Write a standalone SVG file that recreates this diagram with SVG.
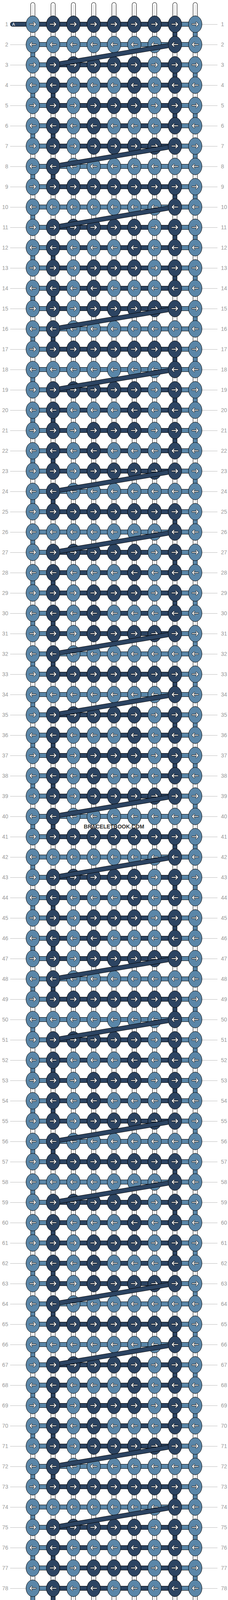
<svg xmlns="http://www.w3.org/2000/svg" xmlns:xlink="http://www.w3.org/1999/xlink" width="584" height="4232" viewBox="0 0 584 4232">
<style>
.kl{fill:#5a86a8;stroke:#000;stroke-width:1}
.kd{fill:#2c4462;stroke:#000;stroke-width:1}
.ab{fill:none;stroke:#000;stroke-width:3.8;stroke-linecap:round;stroke-linejoin:round}
.aw{fill:none;stroke:#fff;stroke-width:2.2;stroke-linecap:round;stroke-linejoin:round}
.lb{font-family:"Liberation Sans",Arial,sans-serif;font-size:14px;fill:#999}
.gl{stroke:#bbb;stroke-width:1;fill:none}
.wm{font-family:"Liberation Sans",Arial,sans-serif;font-size:14px;font-weight:bold;fill:#333}
.ta{font-family:"Liberation Sans",Arial,sans-serif;font-size:11px;fill:#fff}
</style>
<defs>
<path id="ar" d="M-7.5,0H6.5M2.5,-4.5L7,0L2.5,4.5"/>
<g id="LR"><ellipse class="kl" rx="17.3" ry="21.4"/><use href="#ar" class="ab"/><use href="#ar" class="aw"/></g>
<g id="DR"><ellipse class="kd" rx="17.3" ry="21.4"/><use href="#ar" class="ab"/><use href="#ar" class="aw"/></g>
<g id="LL"><ellipse class="kl" rx="17.3" ry="21.4"/><g transform="scale(-1,1)"><use href="#ar" class="ab"/><use href="#ar" class="aw"/></g></g>
<g id="DL"><ellipse class="kd" rx="17.3" ry="21.4"/><g transform="scale(-1,1)"><use href="#ar" class="ab"/><use href="#ar" class="aw"/></g></g>
<g id="str"><rect x="-6" y="6" width="12" height="4220" rx="6" fill="#000"/><rect x="-5" y="7" width="10" height="4218" rx="5" fill="#fff"/><path d="M-1.5,12V4220M1.5,12V4220" stroke="#ccc" stroke-width="1"/></g>
<pattern id="pv1" patternUnits="userSpaceOnUse" x="0" y="114" width="10" height="104"><rect width="10" height="52" fill="#5a86a8"/></pattern>
<pattern id="pv9" patternUnits="userSpaceOnUse" x="0" y="62" width="10" height="104"><rect width="10" height="52" fill="#5a86a8"/></pattern>
<pattern id="pv2" patternUnits="userSpaceOnUse" x="0" y="218" width="10" height="416"><path d="M0,0h10v52h-10zM0,104h10v52h-10zM0,208h10v52h-10z" fill="#2c4462"/></pattern>
<pattern id="pv8" patternUnits="userSpaceOnUse" x="0" y="62" width="10" height="416"><path d="M0,0h10v52h-10zM0,104h10v52h-10zM0,208h10v52h-10z" fill="#2c4462"/></pattern>
<pattern id="phl" patternUnits="userSpaceOnUse" x="0" y="56" width="10" height="52"><rect width="10" height="12" fill="#000"/><rect y="1" width="10" height="10" fill="#5a86a8"/></pattern>
<pattern id="phd" patternUnits="userSpaceOnUse" x="0" y="56" width="10" height="416"><path d="M0,0h10v12h-10zM0,104h10v12h-10zM0,156h10v12h-10zM0,208h10v12h-10zM0,260h10v12h-10zM0,312h10v12h-10z" fill="#000"/><path d="M0,1h10v10h-10zM0,105h10v10h-10zM0,157h10v10h-10zM0,209h10v10h-10zM0,261h10v10h-10zM0,313h10v10h-10z" fill="#2c4462"/></pattern>
<mask id="dm" maskUnits="userSpaceOnUse" x="0" y="-40" width="584" height="140"><rect x="0" y="-40" width="584" height="140" fill="#fff"/><ellipse cx="448" cy="0" rx="17.9" ry="22" fill="#000"/><ellipse cx="136" cy="52" rx="17.9" ry="22" fill="#000"/></mask>
<g id="dg" mask="url(#dm)"><line x1="448" y1="0" x2="136" y2="52" stroke="#000" stroke-width="12"/><line x1="448" y1="0" x2="136" y2="52" stroke="#2c4462" stroke-width="10"/></g>
</defs>
<rect width="584" height="4232" fill="#fff"/>
<g id="guides">
<path class="gl" d="M26,114.5h41m-41,52h41m-41,52h41m-41,52h41m-41,52h41m-41,52h41m-41,52h41m-41,52h41m-41,52h41m-41,52h41m-41,52h41m-41,52h41m-41,52h41m-41,52h41m-41,52h41m-41,52h41m-41,52h41m-41,52h41m-41,52h41m-41,52h41m-41,52h41m-41,52h41m-41,52h41m-41,52h41m-41,52h41m-41,52h41m-41,52h41m-41,52h41m-41,52h41m-41,52h41m-41,52h41m-41,52h41m-41,52h41m-41,52h41m-41,52h41m-41,52h41m-41,52h41m-41,52h41m-41,52h41m-41,52h41m-41,52h41m-41,52h41m-41,52h41m-41,52h41m-41,52h41m-41,52h41m-41,52h41m-41,52h41m-41,52h41m-41,52h41m-41,52h41m-41,52h41m-41,52h41m-41,52h41m-41,52h41m-41,52h41m-41,52h41m-41,52h41m-41,52h41m-41,52h41m-41,52h41m-41,52h41m-41,52h41m-41,52h41m-41,52h41m-41,52h41m-41,52h41m-41,52h41m-41,52h41m-41,52h41m-41,52h41m-41,52h41m-41,52h41m-41,52h41m-41,52h41m-41,52h41m-41,52h41m-41,52h41"/>
<path class="gl" d="M517,62.5h40m-40,52h40m-40,52h40m-40,52h40m-40,52h40m-40,52h40m-40,52h40m-40,52h40m-40,52h40m-40,52h40m-40,52h40m-40,52h40m-40,52h40m-40,52h40m-40,52h40m-40,52h40m-40,52h40m-40,52h40m-40,52h40m-40,52h40m-40,52h40m-40,52h40m-40,52h40m-40,52h40m-40,52h40m-40,52h40m-40,52h40m-40,52h40m-40,52h40m-40,52h40m-40,52h40m-40,52h40m-40,52h40m-40,52h40m-40,52h40m-40,52h40m-40,52h40m-40,52h40m-40,52h40m-40,52h40m-40,52h40m-40,52h40m-40,52h40m-40,52h40m-40,52h40m-40,52h40m-40,52h40m-40,52h40m-40,52h40m-40,52h40m-40,52h40m-40,52h40m-40,52h40m-40,52h40m-40,52h40m-40,52h40m-40,52h40m-40,52h40m-40,52h40m-40,52h40m-40,52h40m-40,52h40m-40,52h40m-40,52h40m-40,52h40m-40,52h40m-40,52h40m-40,52h40m-40,52h40m-40,52h40m-40,52h40m-40,52h40m-40,52h40m-40,52h40m-40,52h40m-40,52h40m-40,52h40m-40,52h40m-40,52h40m-40,52h40"/>
</g>
<g id="labels-left" class="lb" text-anchor="end">
<text x="21" y="67">1</text><text x="21" y="119">2</text><text x="21" y="171">3</text><text x="21" y="223">4</text><text x="21" y="275">5</text><text x="21" y="327">6</text><text x="21" y="379">7</text><text x="21" y="431">8</text><text x="21" y="483">9</text><text x="21" y="535">10</text>
<text x="21" y="587">11</text><text x="21" y="639">12</text><text x="21" y="691">13</text><text x="21" y="743">14</text><text x="21" y="795">15</text><text x="21" y="847">16</text><text x="21" y="899">17</text><text x="21" y="951">18</text><text x="21" y="1003">19</text><text x="21" y="1055">20</text>
<text x="21" y="1107">21</text><text x="21" y="1159">22</text><text x="21" y="1211">23</text><text x="21" y="1263">24</text><text x="21" y="1315">25</text><text x="21" y="1367">26</text><text x="21" y="1419">27</text><text x="21" y="1471">28</text><text x="21" y="1523">29</text><text x="21" y="1575">30</text>
<text x="21" y="1627">31</text><text x="21" y="1679">32</text><text x="21" y="1731">33</text><text x="21" y="1783">34</text><text x="21" y="1835">35</text><text x="21" y="1887">36</text><text x="21" y="1939">37</text><text x="21" y="1991">38</text><text x="21" y="2043">39</text><text x="21" y="2095">40</text>
<text x="21" y="2147">41</text><text x="21" y="2199">42</text><text x="21" y="2251">43</text><text x="21" y="2303">44</text><text x="21" y="2355">45</text><text x="21" y="2407">46</text><text x="21" y="2459">47</text><text x="21" y="2511">48</text><text x="21" y="2563">49</text><text x="21" y="2615">50</text>
<text x="21" y="2667">51</text><text x="21" y="2719">52</text><text x="21" y="2771">53</text><text x="21" y="2823">54</text><text x="21" y="2875">55</text><text x="21" y="2927">56</text><text x="21" y="2979">57</text><text x="21" y="3031">58</text><text x="21" y="3083">59</text><text x="21" y="3135">60</text>
<text x="21" y="3187">61</text><text x="21" y="3239">62</text><text x="21" y="3291">63</text><text x="21" y="3343">64</text><text x="21" y="3395">65</text><text x="21" y="3447">66</text><text x="21" y="3499">67</text><text x="21" y="3551">68</text><text x="21" y="3603">69</text><text x="21" y="3655">70</text>
<text x="21" y="3707">71</text><text x="21" y="3759">72</text><text x="21" y="3811">73</text><text x="21" y="3863">74</text><text x="21" y="3915">75</text><text x="21" y="3967">76</text><text x="21" y="4019">77</text><text x="21" y="4071">78</text><text x="21" y="4123">79</text><text x="21" y="4175">80</text>
</g>
<g id="labels-right" class="lb">
<text x="566" y="67">1</text><text x="566" y="119">2</text><text x="566" y="171">3</text><text x="566" y="223">4</text><text x="566" y="275">5</text><text x="566" y="327">6</text><text x="566" y="379">7</text><text x="566" y="431">8</text><text x="566" y="483">9</text><text x="566" y="535">10</text>
<text x="566" y="587">11</text><text x="566" y="639">12</text><text x="566" y="691">13</text><text x="566" y="743">14</text><text x="566" y="795">15</text><text x="566" y="847">16</text><text x="566" y="899">17</text><text x="566" y="951">18</text><text x="566" y="1003">19</text><text x="566" y="1055">20</text>
<text x="566" y="1107">21</text><text x="566" y="1159">22</text><text x="566" y="1211">23</text><text x="566" y="1263">24</text><text x="566" y="1315">25</text><text x="566" y="1367">26</text><text x="566" y="1419">27</text><text x="566" y="1471">28</text><text x="566" y="1523">29</text><text x="566" y="1575">30</text>
<text x="566" y="1627">31</text><text x="566" y="1679">32</text><text x="566" y="1731">33</text><text x="566" y="1783">34</text><text x="566" y="1835">35</text><text x="566" y="1887">36</text><text x="566" y="1939">37</text><text x="566" y="1991">38</text><text x="566" y="2043">39</text><text x="566" y="2095">40</text>
<text x="566" y="2147">41</text><text x="566" y="2199">42</text><text x="566" y="2251">43</text><text x="566" y="2303">44</text><text x="566" y="2355">45</text><text x="566" y="2407">46</text><text x="566" y="2459">47</text><text x="566" y="2511">48</text><text x="566" y="2563">49</text><text x="566" y="2615">50</text>
<text x="566" y="2667">51</text><text x="566" y="2719">52</text><text x="566" y="2771">53</text><text x="566" y="2823">54</text><text x="566" y="2875">55</text><text x="566" y="2927">56</text><text x="566" y="2979">57</text><text x="566" y="3031">58</text><text x="566" y="3083">59</text><text x="566" y="3135">60</text>
<text x="566" y="3187">61</text><text x="566" y="3239">62</text><text x="566" y="3291">63</text><text x="566" y="3343">64</text><text x="566" y="3395">65</text><text x="566" y="3447">66</text><text x="566" y="3499">67</text><text x="566" y="3551">68</text><text x="566" y="3603">69</text><text x="566" y="3655">70</text>
<text x="566" y="3707">71</text><text x="566" y="3759">72</text><text x="566" y="3811">73</text><text x="566" y="3863">74</text><text x="566" y="3915">75</text><text x="566" y="3967">76</text><text x="566" y="4019">77</text><text x="566" y="4071">78</text><text x="566" y="4123">79</text><text x="566" y="4175">80</text>
</g>
<g id="connectors">
<use href="#str" x="84"/><use href="#str" x="136"/><use href="#str" x="188"/><use href="#str" x="240"/><use href="#str" x="292"/><use href="#str" x="344"/><use href="#str" x="396"/><use href="#str" x="448"/><use href="#str" x="500"/>
<rect x="79" y="62" width="10" height="4108" fill="url(#pv1)"/>
<rect x="495" y="62" width="10" height="4108" fill="url(#pv9)"/>
<rect x="131" y="62" width="10" height="4108" fill="url(#pv2)"/>
<rect x="443" y="62" width="10" height="4108" fill="url(#pv8)"/>
<rect x="84" y="56" width="416" height="4120" fill="url(#phl)"/>
<rect x="136" y="56" width="312" height="4120" fill="url(#phd)"/>
<g id="thread-A-start"><rect x="26" y="56" width="110" height="12" rx="6" fill="#000"/><rect x="27" y="57" width="108" height="10" rx="5" fill="#2c4462"/><text class="ta" x="31" y="66">A</text></g>
<g id="thread-A-end"><rect x="26" y="4164" width="110" height="12" rx="6" fill="#000"/><rect x="27" y="4165" width="108" height="10" rx="5" fill="#2c4462"/><text class="ta" x="31" y="4174">A</text></g>
</g>
<g id="knots">
<g id="r1" transform="translate(0,62)"><use id="n1-1" href="#LR" x="84"/><use id="n1-2" href="#DR" x="136"/><use id="n1-3" href="#DR" x="188"/><use id="n1-4" href="#DR" x="240"/><use id="n1-5" href="#DR" x="292"/><use id="n1-6" href="#DR" x="344"/><use id="n1-7" href="#DR" x="396"/><use id="n1-8" href="#DR" x="448"/><use id="n1-9" href="#LR" x="500"/></g>
<g id="r2" transform="translate(0,114)"><use id="n2-1" href="#LL" x="84"/><use id="n2-2" href="#LL" x="136"/><use id="n2-3" href="#LL" x="188"/><use id="n2-4" href="#LL" x="240"/><use id="n2-5" href="#LL" x="292"/><use id="n2-6" href="#LL" x="344"/><use id="n2-7" href="#LL" x="396"/><use id="n2-8" href="#DL" x="448"/><use id="n2-9" href="#LL" x="500"/></g>
<g id="r3" transform="translate(0,166)"><use id="n3-1" href="#LR" x="84"/><use id="n3-2" href="#DR" x="136"/><use id="n3-3" href="#DR" x="188"/><use id="n3-4" href="#DR" x="240"/><use id="n3-5" href="#DR" x="292"/><use id="n3-6" href="#DR" x="344"/><use id="n3-7" href="#LR" x="396"/><use id="n3-8" href="#DR" x="448"/><use id="n3-9" href="#LR" x="500"/></g>
<g id="r4" transform="translate(0,218)"><use id="n4-1" href="#LL" x="84"/><use id="n4-2" href="#DL" x="136"/><use id="n4-3" href="#LL" x="188"/><use id="n4-4" href="#LL" x="240"/><use id="n4-5" href="#LL" x="292"/><use id="n4-6" href="#DL" x="344"/><use id="n4-7" href="#LL" x="396"/><use id="n4-8" href="#DL" x="448"/><use id="n4-9" href="#LL" x="500"/></g>
<g id="r5" transform="translate(0,270)"><use id="n5-1" href="#LR" x="84"/><use id="n5-2" href="#DR" x="136"/><use id="n5-3" href="#LR" x="188"/><use id="n5-4" href="#DR" x="240"/><use id="n5-5" href="#DR" x="292"/><use id="n5-6" href="#DR" x="344"/><use id="n5-7" href="#LR" x="396"/><use id="n5-8" href="#DR" x="448"/><use id="n5-9" href="#LR" x="500"/></g>
<g id="r6" transform="translate(0,322)"><use id="n6-1" href="#LL" x="84"/><use id="n6-2" href="#DL" x="136"/><use id="n6-3" href="#LL" x="188"/><use id="n6-4" href="#DL" x="240"/><use id="n6-5" href="#LL" x="292"/><use id="n6-6" href="#LL" x="344"/><use id="n6-7" href="#LL" x="396"/><use id="n6-8" href="#DL" x="448"/><use id="n6-9" href="#LL" x="500"/></g>
<g id="r7" transform="translate(0,374)"><use id="n7-1" href="#LR" x="84"/><use id="n7-2" href="#DR" x="136"/><use id="n7-3" href="#LR" x="188"/><use id="n7-4" href="#DR" x="240"/><use id="n7-5" href="#DR" x="292"/><use id="n7-6" href="#DR" x="344"/><use id="n7-7" href="#DR" x="396"/><use id="n7-8" href="#DR" x="448"/><use id="n7-9" href="#LR" x="500"/></g>
<g id="r8" transform="translate(0,426)"><use id="n8-1" href="#LL" x="84"/><use id="n8-2" href="#DL" x="136"/><use id="n8-3" href="#LL" x="188"/><use id="n8-4" href="#LL" x="240"/><use id="n8-5" href="#LL" x="292"/><use id="n8-6" href="#LL" x="344"/><use id="n8-7" href="#LL" x="396"/><use id="n8-8" href="#LL" x="448"/><use id="n8-9" href="#LL" x="500"/></g>
<g id="r9" transform="translate(0,478)"><use id="n9-1" href="#LR" x="84"/><use id="n9-2" href="#DR" x="136"/><use id="n9-3" href="#DR" x="188"/><use id="n9-4" href="#DR" x="240"/><use id="n9-5" href="#DR" x="292"/><use id="n9-6" href="#DR" x="344"/><use id="n9-7" href="#DR" x="396"/><use id="n9-8" href="#DR" x="448"/><use id="n9-9" href="#LR" x="500"/></g>
<g id="r10" transform="translate(0,530)"><use id="n10-1" href="#LL" x="84"/><use id="n10-2" href="#LL" x="136"/><use id="n10-3" href="#LL" x="188"/><use id="n10-4" href="#LL" x="240"/><use id="n10-5" href="#LL" x="292"/><use id="n10-6" href="#LL" x="344"/><use id="n10-7" href="#LL" x="396"/><use id="n10-8" href="#DL" x="448"/><use id="n10-9" href="#LL" x="500"/></g>
<g id="r11" transform="translate(0,582)"><use id="n11-1" href="#LR" x="84"/><use id="n11-2" href="#DR" x="136"/><use id="n11-3" href="#DR" x="188"/><use id="n11-4" href="#DR" x="240"/><use id="n11-5" href="#DR" x="292"/><use id="n11-6" href="#DR" x="344"/><use id="n11-7" href="#LR" x="396"/><use id="n11-8" href="#DR" x="448"/><use id="n11-9" href="#LR" x="500"/></g>
<g id="r12" transform="translate(0,634)"><use id="n12-1" href="#LL" x="84"/><use id="n12-2" href="#DL" x="136"/><use id="n12-3" href="#LL" x="188"/><use id="n12-4" href="#LL" x="240"/><use id="n12-5" href="#LL" x="292"/><use id="n12-6" href="#DL" x="344"/><use id="n12-7" href="#LL" x="396"/><use id="n12-8" href="#DL" x="448"/><use id="n12-9" href="#LL" x="500"/></g>
<g id="r13" transform="translate(0,686)"><use id="n13-1" href="#LR" x="84"/><use id="n13-2" href="#DR" x="136"/><use id="n13-3" href="#LR" x="188"/><use id="n13-4" href="#DR" x="240"/><use id="n13-5" href="#DR" x="292"/><use id="n13-6" href="#DR" x="344"/><use id="n13-7" href="#LR" x="396"/><use id="n13-8" href="#DR" x="448"/><use id="n13-9" href="#LR" x="500"/></g>
<g id="r14" transform="translate(0,738)"><use id="n14-1" href="#LL" x="84"/><use id="n14-2" href="#DL" x="136"/><use id="n14-3" href="#LL" x="188"/><use id="n14-4" href="#DL" x="240"/><use id="n14-5" href="#LL" x="292"/><use id="n14-6" href="#LL" x="344"/><use id="n14-7" href="#LL" x="396"/><use id="n14-8" href="#DL" x="448"/><use id="n14-9" href="#LL" x="500"/></g>
<g id="r15" transform="translate(0,790)"><use id="n15-1" href="#LR" x="84"/><use id="n15-2" href="#DR" x="136"/><use id="n15-3" href="#LR" x="188"/><use id="n15-4" href="#DR" x="240"/><use id="n15-5" href="#DR" x="292"/><use id="n15-6" href="#DR" x="344"/><use id="n15-7" href="#DR" x="396"/><use id="n15-8" href="#DR" x="448"/><use id="n15-9" href="#LR" x="500"/></g>
<g id="r16" transform="translate(0,842)"><use id="n16-1" href="#LL" x="84"/><use id="n16-2" href="#DL" x="136"/><use id="n16-3" href="#LL" x="188"/><use id="n16-4" href="#LL" x="240"/><use id="n16-5" href="#LL" x="292"/><use id="n16-6" href="#LL" x="344"/><use id="n16-7" href="#LL" x="396"/><use id="n16-8" href="#LL" x="448"/><use id="n16-9" href="#LL" x="500"/></g>
<g id="r17" transform="translate(0,894)"><use id="n17-1" href="#LR" x="84"/><use id="n17-2" href="#DR" x="136"/><use id="n17-3" href="#DR" x="188"/><use id="n17-4" href="#DR" x="240"/><use id="n17-5" href="#DR" x="292"/><use id="n17-6" href="#DR" x="344"/><use id="n17-7" href="#DR" x="396"/><use id="n17-8" href="#DR" x="448"/><use id="n17-9" href="#LR" x="500"/></g>
<g id="r18" transform="translate(0,946)"><use id="n18-1" href="#LL" x="84"/><use id="n18-2" href="#LL" x="136"/><use id="n18-3" href="#LL" x="188"/><use id="n18-4" href="#LL" x="240"/><use id="n18-5" href="#LL" x="292"/><use id="n18-6" href="#LL" x="344"/><use id="n18-7" href="#LL" x="396"/><use id="n18-8" href="#DL" x="448"/><use id="n18-9" href="#LL" x="500"/></g>
<g id="r19" transform="translate(0,998)"><use id="n19-1" href="#LR" x="84"/><use id="n19-2" href="#DR" x="136"/><use id="n19-3" href="#DR" x="188"/><use id="n19-4" href="#DR" x="240"/><use id="n19-5" href="#DR" x="292"/><use id="n19-6" href="#DR" x="344"/><use id="n19-7" href="#LR" x="396"/><use id="n19-8" href="#DR" x="448"/><use id="n19-9" href="#LR" x="500"/></g>
<g id="r20" transform="translate(0,1050)"><use id="n20-1" href="#LL" x="84"/><use id="n20-2" href="#DL" x="136"/><use id="n20-3" href="#LL" x="188"/><use id="n20-4" href="#LL" x="240"/><use id="n20-5" href="#LL" x="292"/><use id="n20-6" href="#DL" x="344"/><use id="n20-7" href="#LL" x="396"/><use id="n20-8" href="#DL" x="448"/><use id="n20-9" href="#LL" x="500"/></g>
<g id="r21" transform="translate(0,1102)"><use id="n21-1" href="#LR" x="84"/><use id="n21-2" href="#DR" x="136"/><use id="n21-3" href="#LR" x="188"/><use id="n21-4" href="#DR" x="240"/><use id="n21-5" href="#DR" x="292"/><use id="n21-6" href="#DR" x="344"/><use id="n21-7" href="#LR" x="396"/><use id="n21-8" href="#DR" x="448"/><use id="n21-9" href="#LR" x="500"/></g>
<g id="r22" transform="translate(0,1154)"><use id="n22-1" href="#LL" x="84"/><use id="n22-2" href="#DL" x="136"/><use id="n22-3" href="#LL" x="188"/><use id="n22-4" href="#DL" x="240"/><use id="n22-5" href="#LL" x="292"/><use id="n22-6" href="#LL" x="344"/><use id="n22-7" href="#LL" x="396"/><use id="n22-8" href="#DL" x="448"/><use id="n22-9" href="#LL" x="500"/></g>
<g id="r23" transform="translate(0,1206)"><use id="n23-1" href="#LR" x="84"/><use id="n23-2" href="#DR" x="136"/><use id="n23-3" href="#LR" x="188"/><use id="n23-4" href="#DR" x="240"/><use id="n23-5" href="#DR" x="292"/><use id="n23-6" href="#DR" x="344"/><use id="n23-7" href="#DR" x="396"/><use id="n23-8" href="#DR" x="448"/><use id="n23-9" href="#LR" x="500"/></g>
<g id="r24" transform="translate(0,1258)"><use id="n24-1" href="#LL" x="84"/><use id="n24-2" href="#DL" x="136"/><use id="n24-3" href="#LL" x="188"/><use id="n24-4" href="#LL" x="240"/><use id="n24-5" href="#LL" x="292"/><use id="n24-6" href="#LL" x="344"/><use id="n24-7" href="#LL" x="396"/><use id="n24-8" href="#LL" x="448"/><use id="n24-9" href="#LL" x="500"/></g>
<g id="r25" transform="translate(0,1310)"><use id="n25-1" href="#LR" x="84"/><use id="n25-2" href="#DR" x="136"/><use id="n25-3" href="#DR" x="188"/><use id="n25-4" href="#DR" x="240"/><use id="n25-5" href="#DR" x="292"/><use id="n25-6" href="#DR" x="344"/><use id="n25-7" href="#DR" x="396"/><use id="n25-8" href="#DR" x="448"/><use id="n25-9" href="#LR" x="500"/></g>
<g id="r26" transform="translate(0,1362)"><use id="n26-1" href="#LL" x="84"/><use id="n26-2" href="#LL" x="136"/><use id="n26-3" href="#LL" x="188"/><use id="n26-4" href="#LL" x="240"/><use id="n26-5" href="#LL" x="292"/><use id="n26-6" href="#LL" x="344"/><use id="n26-7" href="#LL" x="396"/><use id="n26-8" href="#DL" x="448"/><use id="n26-9" href="#LL" x="500"/></g>
<g id="r27" transform="translate(0,1414)"><use id="n27-1" href="#LR" x="84"/><use id="n27-2" href="#DR" x="136"/><use id="n27-3" href="#DR" x="188"/><use id="n27-4" href="#DR" x="240"/><use id="n27-5" href="#DR" x="292"/><use id="n27-6" href="#DR" x="344"/><use id="n27-7" href="#LR" x="396"/><use id="n27-8" href="#DR" x="448"/><use id="n27-9" href="#LR" x="500"/></g>
<g id="r28" transform="translate(0,1466)"><use id="n28-1" href="#LL" x="84"/><use id="n28-2" href="#DL" x="136"/><use id="n28-3" href="#LL" x="188"/><use id="n28-4" href="#LL" x="240"/><use id="n28-5" href="#LL" x="292"/><use id="n28-6" href="#DL" x="344"/><use id="n28-7" href="#LL" x="396"/><use id="n28-8" href="#DL" x="448"/><use id="n28-9" href="#LL" x="500"/></g>
<g id="r29" transform="translate(0,1518)"><use id="n29-1" href="#LR" x="84"/><use id="n29-2" href="#DR" x="136"/><use id="n29-3" href="#LR" x="188"/><use id="n29-4" href="#DR" x="240"/><use id="n29-5" href="#DR" x="292"/><use id="n29-6" href="#DR" x="344"/><use id="n29-7" href="#LR" x="396"/><use id="n29-8" href="#DR" x="448"/><use id="n29-9" href="#LR" x="500"/></g>
<g id="r30" transform="translate(0,1570)"><use id="n30-1" href="#LL" x="84"/><use id="n30-2" href="#DL" x="136"/><use id="n30-3" href="#LL" x="188"/><use id="n30-4" href="#DL" x="240"/><use id="n30-5" href="#LL" x="292"/><use id="n30-6" href="#LL" x="344"/><use id="n30-7" href="#LL" x="396"/><use id="n30-8" href="#DL" x="448"/><use id="n30-9" href="#LL" x="500"/></g>
<g id="r31" transform="translate(0,1622)"><use id="n31-1" href="#LR" x="84"/><use id="n31-2" href="#DR" x="136"/><use id="n31-3" href="#LR" x="188"/><use id="n31-4" href="#DR" x="240"/><use id="n31-5" href="#DR" x="292"/><use id="n31-6" href="#DR" x="344"/><use id="n31-7" href="#DR" x="396"/><use id="n31-8" href="#DR" x="448"/><use id="n31-9" href="#LR" x="500"/></g>
<g id="r32" transform="translate(0,1674)"><use id="n32-1" href="#LL" x="84"/><use id="n32-2" href="#DL" x="136"/><use id="n32-3" href="#LL" x="188"/><use id="n32-4" href="#LL" x="240"/><use id="n32-5" href="#LL" x="292"/><use id="n32-6" href="#LL" x="344"/><use id="n32-7" href="#LL" x="396"/><use id="n32-8" href="#LL" x="448"/><use id="n32-9" href="#LL" x="500"/></g>
<g id="r33" transform="translate(0,1726)"><use id="n33-1" href="#LR" x="84"/><use id="n33-2" href="#DR" x="136"/><use id="n33-3" href="#DR" x="188"/><use id="n33-4" href="#DR" x="240"/><use id="n33-5" href="#DR" x="292"/><use id="n33-6" href="#DR" x="344"/><use id="n33-7" href="#DR" x="396"/><use id="n33-8" href="#DR" x="448"/><use id="n33-9" href="#LR" x="500"/></g>
<g id="r34" transform="translate(0,1778)"><use id="n34-1" href="#LL" x="84"/><use id="n34-2" href="#LL" x="136"/><use id="n34-3" href="#LL" x="188"/><use id="n34-4" href="#LL" x="240"/><use id="n34-5" href="#LL" x="292"/><use id="n34-6" href="#LL" x="344"/><use id="n34-7" href="#LL" x="396"/><use id="n34-8" href="#DL" x="448"/><use id="n34-9" href="#LL" x="500"/></g>
<g id="r35" transform="translate(0,1830)"><use id="n35-1" href="#LR" x="84"/><use id="n35-2" href="#DR" x="136"/><use id="n35-3" href="#DR" x="188"/><use id="n35-4" href="#DR" x="240"/><use id="n35-5" href="#DR" x="292"/><use id="n35-6" href="#DR" x="344"/><use id="n35-7" href="#LR" x="396"/><use id="n35-8" href="#DR" x="448"/><use id="n35-9" href="#LR" x="500"/></g>
<g id="r36" transform="translate(0,1882)"><use id="n36-1" href="#LL" x="84"/><use id="n36-2" href="#DL" x="136"/><use id="n36-3" href="#LL" x="188"/><use id="n36-4" href="#LL" x="240"/><use id="n36-5" href="#LL" x="292"/><use id="n36-6" href="#DL" x="344"/><use id="n36-7" href="#LL" x="396"/><use id="n36-8" href="#DL" x="448"/><use id="n36-9" href="#LL" x="500"/></g>
<g id="r37" transform="translate(0,1934)"><use id="n37-1" href="#LR" x="84"/><use id="n37-2" href="#DR" x="136"/><use id="n37-3" href="#LR" x="188"/><use id="n37-4" href="#DR" x="240"/><use id="n37-5" href="#DR" x="292"/><use id="n37-6" href="#DR" x="344"/><use id="n37-7" href="#LR" x="396"/><use id="n37-8" href="#DR" x="448"/><use id="n37-9" href="#LR" x="500"/></g>
<g id="r38" transform="translate(0,1986)"><use id="n38-1" href="#LL" x="84"/><use id="n38-2" href="#DL" x="136"/><use id="n38-3" href="#LL" x="188"/><use id="n38-4" href="#DL" x="240"/><use id="n38-5" href="#LL" x="292"/><use id="n38-6" href="#LL" x="344"/><use id="n38-7" href="#LL" x="396"/><use id="n38-8" href="#DL" x="448"/><use id="n38-9" href="#LL" x="500"/></g>
<g id="r39" transform="translate(0,2038)"><use id="n39-1" href="#LR" x="84"/><use id="n39-2" href="#DR" x="136"/><use id="n39-3" href="#LR" x="188"/><use id="n39-4" href="#DR" x="240"/><use id="n39-5" href="#DR" x="292"/><use id="n39-6" href="#DR" x="344"/><use id="n39-7" href="#DR" x="396"/><use id="n39-8" href="#DR" x="448"/><use id="n39-9" href="#LR" x="500"/></g>
<g id="r40" transform="translate(0,2090)"><use id="n40-1" href="#LL" x="84"/><use id="n40-2" href="#DL" x="136"/><use id="n40-3" href="#LL" x="188"/><use id="n40-4" href="#LL" x="240"/><use id="n40-5" href="#LL" x="292"/><use id="n40-6" href="#LL" x="344"/><use id="n40-7" href="#LL" x="396"/><use id="n40-8" href="#LL" x="448"/><use id="n40-9" href="#LL" x="500"/></g>
<g id="r41" transform="translate(0,2142)"><use id="n41-1" href="#LR" x="84"/><use id="n41-2" href="#DR" x="136"/><use id="n41-3" href="#DR" x="188"/><use id="n41-4" href="#DR" x="240"/><use id="n41-5" href="#DR" x="292"/><use id="n41-6" href="#DR" x="344"/><use id="n41-7" href="#DR" x="396"/><use id="n41-8" href="#DR" x="448"/><use id="n41-9" href="#LR" x="500"/></g>
<g id="r42" transform="translate(0,2194)"><use id="n42-1" href="#LL" x="84"/><use id="n42-2" href="#LL" x="136"/><use id="n42-3" href="#LL" x="188"/><use id="n42-4" href="#LL" x="240"/><use id="n42-5" href="#LL" x="292"/><use id="n42-6" href="#LL" x="344"/><use id="n42-7" href="#LL" x="396"/><use id="n42-8" href="#DL" x="448"/><use id="n42-9" href="#LL" x="500"/></g>
<g id="r43" transform="translate(0,2246)"><use id="n43-1" href="#LR" x="84"/><use id="n43-2" href="#DR" x="136"/><use id="n43-3" href="#DR" x="188"/><use id="n43-4" href="#DR" x="240"/><use id="n43-5" href="#DR" x="292"/><use id="n43-6" href="#DR" x="344"/><use id="n43-7" href="#LR" x="396"/><use id="n43-8" href="#DR" x="448"/><use id="n43-9" href="#LR" x="500"/></g>
<g id="r44" transform="translate(0,2298)"><use id="n44-1" href="#LL" x="84"/><use id="n44-2" href="#DL" x="136"/><use id="n44-3" href="#LL" x="188"/><use id="n44-4" href="#LL" x="240"/><use id="n44-5" href="#LL" x="292"/><use id="n44-6" href="#DL" x="344"/><use id="n44-7" href="#LL" x="396"/><use id="n44-8" href="#DL" x="448"/><use id="n44-9" href="#LL" x="500"/></g>
<g id="r45" transform="translate(0,2350)"><use id="n45-1" href="#LR" x="84"/><use id="n45-2" href="#DR" x="136"/><use id="n45-3" href="#LR" x="188"/><use id="n45-4" href="#DR" x="240"/><use id="n45-5" href="#DR" x="292"/><use id="n45-6" href="#DR" x="344"/><use id="n45-7" href="#LR" x="396"/><use id="n45-8" href="#DR" x="448"/><use id="n45-9" href="#LR" x="500"/></g>
<g id="r46" transform="translate(0,2402)"><use id="n46-1" href="#LL" x="84"/><use id="n46-2" href="#DL" x="136"/><use id="n46-3" href="#LL" x="188"/><use id="n46-4" href="#DL" x="240"/><use id="n46-5" href="#LL" x="292"/><use id="n46-6" href="#LL" x="344"/><use id="n46-7" href="#LL" x="396"/><use id="n46-8" href="#DL" x="448"/><use id="n46-9" href="#LL" x="500"/></g>
<g id="r47" transform="translate(0,2454)"><use id="n47-1" href="#LR" x="84"/><use id="n47-2" href="#DR" x="136"/><use id="n47-3" href="#LR" x="188"/><use id="n47-4" href="#DR" x="240"/><use id="n47-5" href="#DR" x="292"/><use id="n47-6" href="#DR" x="344"/><use id="n47-7" href="#DR" x="396"/><use id="n47-8" href="#DR" x="448"/><use id="n47-9" href="#LR" x="500"/></g>
<g id="r48" transform="translate(0,2506)"><use id="n48-1" href="#LL" x="84"/><use id="n48-2" href="#DL" x="136"/><use id="n48-3" href="#LL" x="188"/><use id="n48-4" href="#LL" x="240"/><use id="n48-5" href="#LL" x="292"/><use id="n48-6" href="#LL" x="344"/><use id="n48-7" href="#LL" x="396"/><use id="n48-8" href="#LL" x="448"/><use id="n48-9" href="#LL" x="500"/></g>
<g id="r49" transform="translate(0,2558)"><use id="n49-1" href="#LR" x="84"/><use id="n49-2" href="#DR" x="136"/><use id="n49-3" href="#DR" x="188"/><use id="n49-4" href="#DR" x="240"/><use id="n49-5" href="#DR" x="292"/><use id="n49-6" href="#DR" x="344"/><use id="n49-7" href="#DR" x="396"/><use id="n49-8" href="#DR" x="448"/><use id="n49-9" href="#LR" x="500"/></g>
<g id="r50" transform="translate(0,2610)"><use id="n50-1" href="#LL" x="84"/><use id="n50-2" href="#LL" x="136"/><use id="n50-3" href="#LL" x="188"/><use id="n50-4" href="#LL" x="240"/><use id="n50-5" href="#LL" x="292"/><use id="n50-6" href="#LL" x="344"/><use id="n50-7" href="#LL" x="396"/><use id="n50-8" href="#DL" x="448"/><use id="n50-9" href="#LL" x="500"/></g>
<g id="r51" transform="translate(0,2662)"><use id="n51-1" href="#LR" x="84"/><use id="n51-2" href="#DR" x="136"/><use id="n51-3" href="#DR" x="188"/><use id="n51-4" href="#DR" x="240"/><use id="n51-5" href="#DR" x="292"/><use id="n51-6" href="#DR" x="344"/><use id="n51-7" href="#LR" x="396"/><use id="n51-8" href="#DR" x="448"/><use id="n51-9" href="#LR" x="500"/></g>
<g id="r52" transform="translate(0,2714)"><use id="n52-1" href="#LL" x="84"/><use id="n52-2" href="#DL" x="136"/><use id="n52-3" href="#LL" x="188"/><use id="n52-4" href="#LL" x="240"/><use id="n52-5" href="#LL" x="292"/><use id="n52-6" href="#DL" x="344"/><use id="n52-7" href="#LL" x="396"/><use id="n52-8" href="#DL" x="448"/><use id="n52-9" href="#LL" x="500"/></g>
<g id="r53" transform="translate(0,2766)"><use id="n53-1" href="#LR" x="84"/><use id="n53-2" href="#DR" x="136"/><use id="n53-3" href="#LR" x="188"/><use id="n53-4" href="#DR" x="240"/><use id="n53-5" href="#DR" x="292"/><use id="n53-6" href="#DR" x="344"/><use id="n53-7" href="#LR" x="396"/><use id="n53-8" href="#DR" x="448"/><use id="n53-9" href="#LR" x="500"/></g>
<g id="r54" transform="translate(0,2818)"><use id="n54-1" href="#LL" x="84"/><use id="n54-2" href="#DL" x="136"/><use id="n54-3" href="#LL" x="188"/><use id="n54-4" href="#DL" x="240"/><use id="n54-5" href="#LL" x="292"/><use id="n54-6" href="#LL" x="344"/><use id="n54-7" href="#LL" x="396"/><use id="n54-8" href="#DL" x="448"/><use id="n54-9" href="#LL" x="500"/></g>
<g id="r55" transform="translate(0,2870)"><use id="n55-1" href="#LR" x="84"/><use id="n55-2" href="#DR" x="136"/><use id="n55-3" href="#LR" x="188"/><use id="n55-4" href="#DR" x="240"/><use id="n55-5" href="#DR" x="292"/><use id="n55-6" href="#DR" x="344"/><use id="n55-7" href="#DR" x="396"/><use id="n55-8" href="#DR" x="448"/><use id="n55-9" href="#LR" x="500"/></g>
<g id="r56" transform="translate(0,2922)"><use id="n56-1" href="#LL" x="84"/><use id="n56-2" href="#DL" x="136"/><use id="n56-3" href="#LL" x="188"/><use id="n56-4" href="#LL" x="240"/><use id="n56-5" href="#LL" x="292"/><use id="n56-6" href="#LL" x="344"/><use id="n56-7" href="#LL" x="396"/><use id="n56-8" href="#LL" x="448"/><use id="n56-9" href="#LL" x="500"/></g>
<g id="r57" transform="translate(0,2974)"><use id="n57-1" href="#LR" x="84"/><use id="n57-2" href="#DR" x="136"/><use id="n57-3" href="#DR" x="188"/><use id="n57-4" href="#DR" x="240"/><use id="n57-5" href="#DR" x="292"/><use id="n57-6" href="#DR" x="344"/><use id="n57-7" href="#DR" x="396"/><use id="n57-8" href="#DR" x="448"/><use id="n57-9" href="#LR" x="500"/></g>
<g id="r58" transform="translate(0,3026)"><use id="n58-1" href="#LL" x="84"/><use id="n58-2" href="#LL" x="136"/><use id="n58-3" href="#LL" x="188"/><use id="n58-4" href="#LL" x="240"/><use id="n58-5" href="#LL" x="292"/><use id="n58-6" href="#LL" x="344"/><use id="n58-7" href="#LL" x="396"/><use id="n58-8" href="#DL" x="448"/><use id="n58-9" href="#LL" x="500"/></g>
<g id="r59" transform="translate(0,3078)"><use id="n59-1" href="#LR" x="84"/><use id="n59-2" href="#DR" x="136"/><use id="n59-3" href="#DR" x="188"/><use id="n59-4" href="#DR" x="240"/><use id="n59-5" href="#DR" x="292"/><use id="n59-6" href="#DR" x="344"/><use id="n59-7" href="#LR" x="396"/><use id="n59-8" href="#DR" x="448"/><use id="n59-9" href="#LR" x="500"/></g>
<g id="r60" transform="translate(0,3130)"><use id="n60-1" href="#LL" x="84"/><use id="n60-2" href="#DL" x="136"/><use id="n60-3" href="#LL" x="188"/><use id="n60-4" href="#LL" x="240"/><use id="n60-5" href="#LL" x="292"/><use id="n60-6" href="#DL" x="344"/><use id="n60-7" href="#LL" x="396"/><use id="n60-8" href="#DL" x="448"/><use id="n60-9" href="#LL" x="500"/></g>
<g id="r61" transform="translate(0,3182)"><use id="n61-1" href="#LR" x="84"/><use id="n61-2" href="#DR" x="136"/><use id="n61-3" href="#LR" x="188"/><use id="n61-4" href="#DR" x="240"/><use id="n61-5" href="#DR" x="292"/><use id="n61-6" href="#DR" x="344"/><use id="n61-7" href="#LR" x="396"/><use id="n61-8" href="#DR" x="448"/><use id="n61-9" href="#LR" x="500"/></g>
<g id="r62" transform="translate(0,3234)"><use id="n62-1" href="#LL" x="84"/><use id="n62-2" href="#DL" x="136"/><use id="n62-3" href="#LL" x="188"/><use id="n62-4" href="#DL" x="240"/><use id="n62-5" href="#LL" x="292"/><use id="n62-6" href="#LL" x="344"/><use id="n62-7" href="#LL" x="396"/><use id="n62-8" href="#DL" x="448"/><use id="n62-9" href="#LL" x="500"/></g>
<g id="r63" transform="translate(0,3286)"><use id="n63-1" href="#LR" x="84"/><use id="n63-2" href="#DR" x="136"/><use id="n63-3" href="#LR" x="188"/><use id="n63-4" href="#DR" x="240"/><use id="n63-5" href="#DR" x="292"/><use id="n63-6" href="#DR" x="344"/><use id="n63-7" href="#DR" x="396"/><use id="n63-8" href="#DR" x="448"/><use id="n63-9" href="#LR" x="500"/></g>
<g id="r64" transform="translate(0,3338)"><use id="n64-1" href="#LL" x="84"/><use id="n64-2" href="#DL" x="136"/><use id="n64-3" href="#LL" x="188"/><use id="n64-4" href="#LL" x="240"/><use id="n64-5" href="#LL" x="292"/><use id="n64-6" href="#LL" x="344"/><use id="n64-7" href="#LL" x="396"/><use id="n64-8" href="#LL" x="448"/><use id="n64-9" href="#LL" x="500"/></g>
<g id="r65" transform="translate(0,3390)"><use id="n65-1" href="#LR" x="84"/><use id="n65-2" href="#DR" x="136"/><use id="n65-3" href="#DR" x="188"/><use id="n65-4" href="#DR" x="240"/><use id="n65-5" href="#DR" x="292"/><use id="n65-6" href="#DR" x="344"/><use id="n65-7" href="#DR" x="396"/><use id="n65-8" href="#DR" x="448"/><use id="n65-9" href="#LR" x="500"/></g>
<g id="r66" transform="translate(0,3442)"><use id="n66-1" href="#LL" x="84"/><use id="n66-2" href="#LL" x="136"/><use id="n66-3" href="#LL" x="188"/><use id="n66-4" href="#LL" x="240"/><use id="n66-5" href="#LL" x="292"/><use id="n66-6" href="#LL" x="344"/><use id="n66-7" href="#LL" x="396"/><use id="n66-8" href="#DL" x="448"/><use id="n66-9" href="#LL" x="500"/></g>
<g id="r67" transform="translate(0,3494)"><use id="n67-1" href="#LR" x="84"/><use id="n67-2" href="#DR" x="136"/><use id="n67-3" href="#DR" x="188"/><use id="n67-4" href="#DR" x="240"/><use id="n67-5" href="#DR" x="292"/><use id="n67-6" href="#DR" x="344"/><use id="n67-7" href="#LR" x="396"/><use id="n67-8" href="#DR" x="448"/><use id="n67-9" href="#LR" x="500"/></g>
<g id="r68" transform="translate(0,3546)"><use id="n68-1" href="#LL" x="84"/><use id="n68-2" href="#DL" x="136"/><use id="n68-3" href="#LL" x="188"/><use id="n68-4" href="#LL" x="240"/><use id="n68-5" href="#LL" x="292"/><use id="n68-6" href="#DL" x="344"/><use id="n68-7" href="#LL" x="396"/><use id="n68-8" href="#DL" x="448"/><use id="n68-9" href="#LL" x="500"/></g>
<g id="r69" transform="translate(0,3598)"><use id="n69-1" href="#LR" x="84"/><use id="n69-2" href="#DR" x="136"/><use id="n69-3" href="#LR" x="188"/><use id="n69-4" href="#DR" x="240"/><use id="n69-5" href="#DR" x="292"/><use id="n69-6" href="#DR" x="344"/><use id="n69-7" href="#LR" x="396"/><use id="n69-8" href="#DR" x="448"/><use id="n69-9" href="#LR" x="500"/></g>
<g id="r70" transform="translate(0,3650)"><use id="n70-1" href="#LL" x="84"/><use id="n70-2" href="#DL" x="136"/><use id="n70-3" href="#LL" x="188"/><use id="n70-4" href="#DL" x="240"/><use id="n70-5" href="#LL" x="292"/><use id="n70-6" href="#LL" x="344"/><use id="n70-7" href="#LL" x="396"/><use id="n70-8" href="#DL" x="448"/><use id="n70-9" href="#LL" x="500"/></g>
<g id="r71" transform="translate(0,3702)"><use id="n71-1" href="#LR" x="84"/><use id="n71-2" href="#DR" x="136"/><use id="n71-3" href="#LR" x="188"/><use id="n71-4" href="#DR" x="240"/><use id="n71-5" href="#DR" x="292"/><use id="n71-6" href="#DR" x="344"/><use id="n71-7" href="#DR" x="396"/><use id="n71-8" href="#DR" x="448"/><use id="n71-9" href="#LR" x="500"/></g>
<g id="r72" transform="translate(0,3754)"><use id="n72-1" href="#LL" x="84"/><use id="n72-2" href="#DL" x="136"/><use id="n72-3" href="#LL" x="188"/><use id="n72-4" href="#LL" x="240"/><use id="n72-5" href="#LL" x="292"/><use id="n72-6" href="#LL" x="344"/><use id="n72-7" href="#LL" x="396"/><use id="n72-8" href="#LL" x="448"/><use id="n72-9" href="#LL" x="500"/></g>
<g id="r73" transform="translate(0,3806)"><use id="n73-1" href="#LR" x="84"/><use id="n73-2" href="#DR" x="136"/><use id="n73-3" href="#DR" x="188"/><use id="n73-4" href="#DR" x="240"/><use id="n73-5" href="#DR" x="292"/><use id="n73-6" href="#DR" x="344"/><use id="n73-7" href="#DR" x="396"/><use id="n73-8" href="#DR" x="448"/><use id="n73-9" href="#LR" x="500"/></g>
<g id="r74" transform="translate(0,3858)"><use id="n74-1" href="#LL" x="84"/><use id="n74-2" href="#LL" x="136"/><use id="n74-3" href="#LL" x="188"/><use id="n74-4" href="#LL" x="240"/><use id="n74-5" href="#LL" x="292"/><use id="n74-6" href="#LL" x="344"/><use id="n74-7" href="#LL" x="396"/><use id="n74-8" href="#DL" x="448"/><use id="n74-9" href="#LL" x="500"/></g>
<g id="r75" transform="translate(0,3910)"><use id="n75-1" href="#LR" x="84"/><use id="n75-2" href="#DR" x="136"/><use id="n75-3" href="#DR" x="188"/><use id="n75-4" href="#DR" x="240"/><use id="n75-5" href="#DR" x="292"/><use id="n75-6" href="#DR" x="344"/><use id="n75-7" href="#LR" x="396"/><use id="n75-8" href="#DR" x="448"/><use id="n75-9" href="#LR" x="500"/></g>
<g id="r76" transform="translate(0,3962)"><use id="n76-1" href="#LL" x="84"/><use id="n76-2" href="#DL" x="136"/><use id="n76-3" href="#LL" x="188"/><use id="n76-4" href="#LL" x="240"/><use id="n76-5" href="#LL" x="292"/><use id="n76-6" href="#DL" x="344"/><use id="n76-7" href="#LL" x="396"/><use id="n76-8" href="#DL" x="448"/><use id="n76-9" href="#LL" x="500"/></g>
<g id="r77" transform="translate(0,4014)"><use id="n77-1" href="#LR" x="84"/><use id="n77-2" href="#DR" x="136"/><use id="n77-3" href="#LR" x="188"/><use id="n77-4" href="#DR" x="240"/><use id="n77-5" href="#DR" x="292"/><use id="n77-6" href="#DR" x="344"/><use id="n77-7" href="#LR" x="396"/><use id="n77-8" href="#DR" x="448"/><use id="n77-9" href="#LR" x="500"/></g>
<g id="r78" transform="translate(0,4066)"><use id="n78-1" href="#LL" x="84"/><use id="n78-2" href="#DL" x="136"/><use id="n78-3" href="#LL" x="188"/><use id="n78-4" href="#DL" x="240"/><use id="n78-5" href="#LL" x="292"/><use id="n78-6" href="#LL" x="344"/><use id="n78-7" href="#LL" x="396"/><use id="n78-8" href="#DL" x="448"/><use id="n78-9" href="#LL" x="500"/></g>
<g id="r79" transform="translate(0,4118)"><use id="n79-1" href="#LR" x="84"/><use id="n79-2" href="#DR" x="136"/><use id="n79-3" href="#LR" x="188"/><use id="n79-4" href="#DR" x="240"/><use id="n79-5" href="#DR" x="292"/><use id="n79-6" href="#DR" x="344"/><use id="n79-7" href="#DR" x="396"/><use id="n79-8" href="#DR" x="448"/><use id="n79-9" href="#LR" x="500"/></g>
<g id="r80" transform="translate(0,4170)"><use id="n80-1" href="#LL" x="84"/><use id="n80-2" href="#DL" x="136"/><use id="n80-3" href="#LL" x="188"/><use id="n80-4" href="#LL" x="240"/><use id="n80-5" href="#LL" x="292"/><use id="n80-6" href="#LL" x="344"/><use id="n80-7" href="#LL" x="396"/><use id="n80-8" href="#LL" x="448"/><use id="n80-9" href="#LL" x="500"/></g>
</g>
<g id="carry-connectors">
<use href="#dg" y="114"/><use href="#dg" y="374"/><use href="#dg" y="530"/><use href="#dg" y="790"/><use href="#dg" y="946"/><use href="#dg" y="1206"/><use href="#dg" y="1362"/><use href="#dg" y="1622"/><use href="#dg" y="1778"/><use href="#dg" y="2038"/>
<use href="#dg" y="2194"/><use href="#dg" y="2454"/><use href="#dg" y="2610"/><use href="#dg" y="2870"/><use href="#dg" y="3026"/><use href="#dg" y="3286"/><use href="#dg" y="3442"/><use href="#dg" y="3702"/><use href="#dg" y="3858"/><use href="#dg" y="4118"/>
</g>
<text class="wm" x="292" y="2121" text-anchor="middle">BRACELETBOOK.COM</text>
</svg>
